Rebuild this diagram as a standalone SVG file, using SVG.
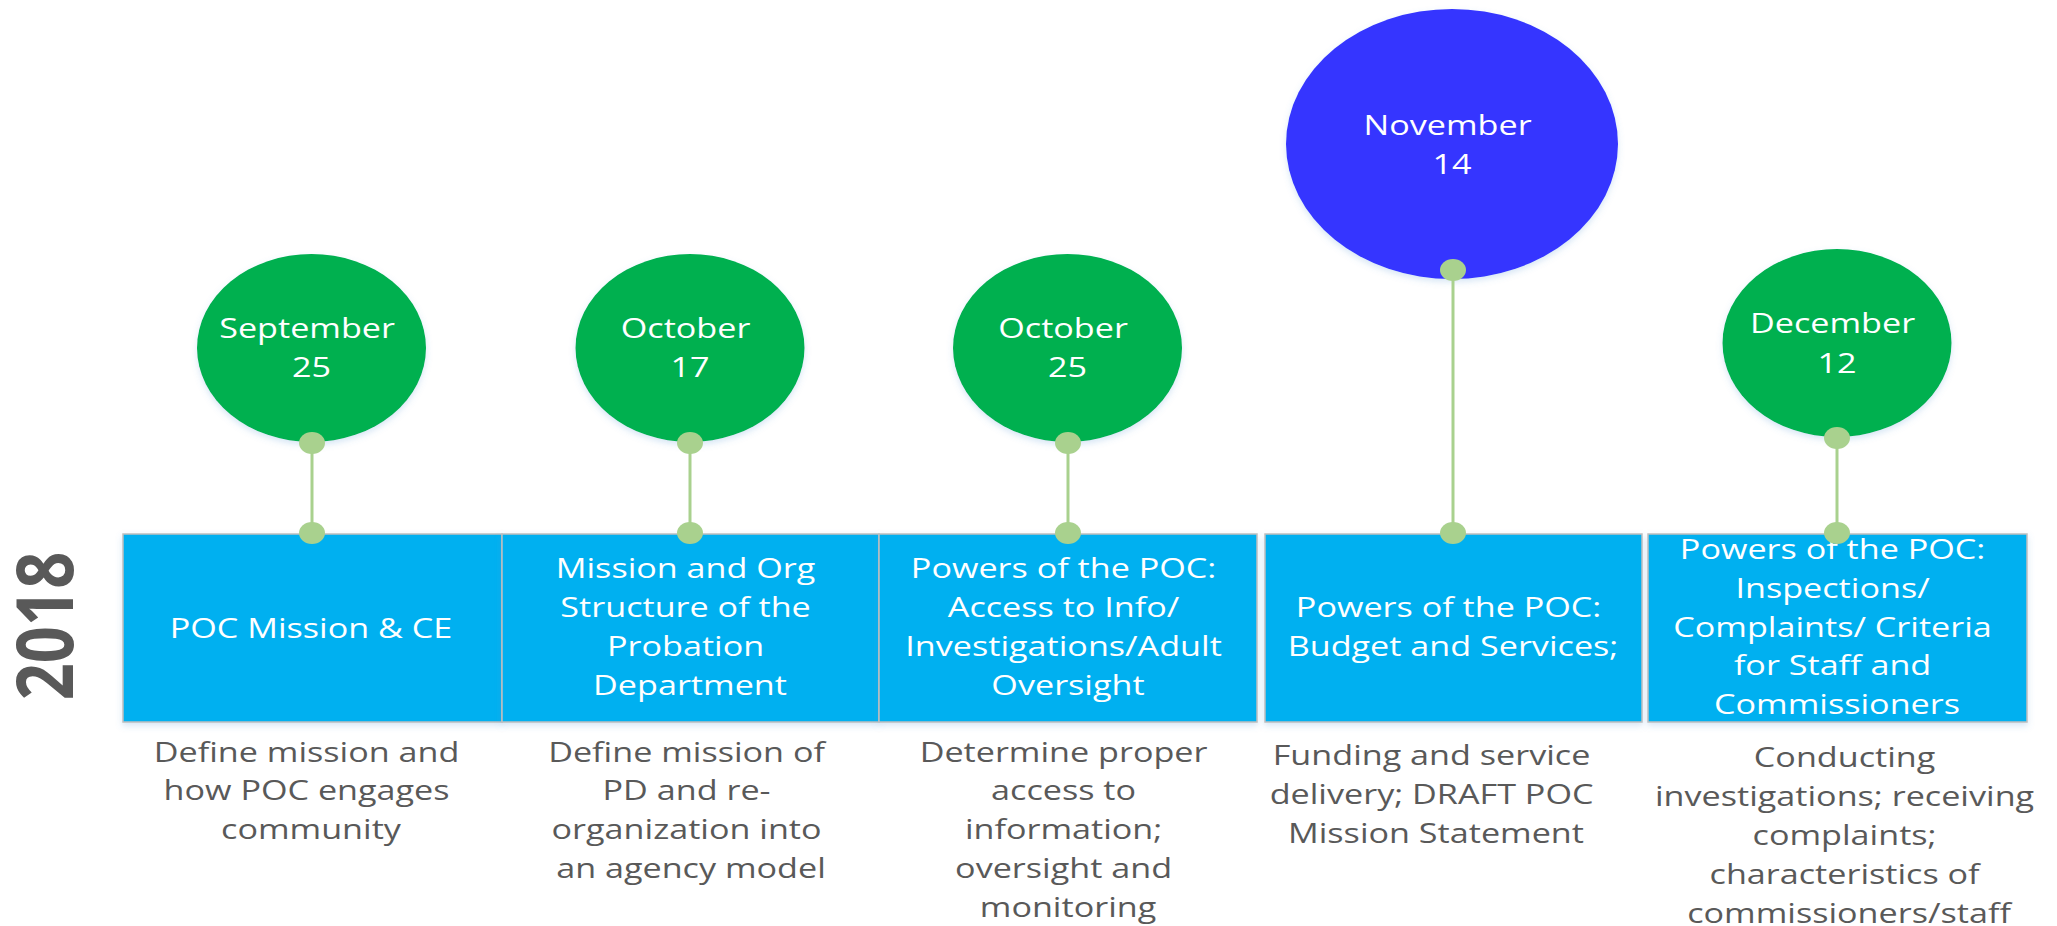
<svg xmlns="http://www.w3.org/2000/svg" width="2057" height="926" viewBox="0 0 2057 926">
  <defs>
    <filter id="sh" x="-20%" y="-20%" width="140%" height="150%">
      <feDropShadow dx="0" dy="3" stdDeviation="3" flood-color="#5b9bd5" flood-opacity="0.25"/>
    </filter>
    <style>
      .t { font-family: "Open Sans", "Liberation Sans", sans-serif; font-size: 28px; text-anchor: middle; }
      .w { fill: #ffffff; }
      .g { fill: #595959; }
      .green { fill: #00b050; filter: url(#sh); }
      .blue { fill: #3535ff; filter: url(#sh); }
      .box { fill: #00b0f0; stroke: #bfbfbf; stroke-width: 1.5; filter: url(#sh); }
      .year { font-family: "Open Sans", "Liberation Sans", sans-serif; font-size: 65px; font-weight: bold; fill: #595959; text-anchor: middle; }
      .link { stroke: #a9d18e; stroke-width: 3; fill: none; }
      .dot { fill: #a9d18e; }
    </style>
  </defs>
  <rect width="2057" height="926" fill="#ffffff"/>

  <text class="year" transform="translate(73,626) scale(1.22,1) rotate(-90)" x="0" y="0">2018</text>

  <!-- topic boxes -->
  <g id="box-sep25">
    <rect class="box" x="123" y="534" width="379" height="188"/>
    <text class="t w" transform="matrix(1.22,0,0,1,311,0)" x="0" y="638">POC Mission &amp; CE</text>
  </g>
  <g id="box-oct17">
    <rect class="box" x="502" y="534" width="377" height="188"/>
    <text class="t w" transform="matrix(1.22,0,0,1,690,0)">
      <tspan x="0" y="578">Mission and Org</tspan>
      <tspan x="0" y="617">Structure of the</tspan>
      <tspan x="0" y="656">Probation</tspan>
      <tspan x="0" y="695">Department</tspan>
    </text>
  </g>
  <g id="box-oct25">
    <rect class="box" x="879" y="534" width="378" height="188"/>
    <text class="t w" transform="matrix(1.22,0,0,1,1068,0)">
      <tspan x="0" y="578">Powers of the POC:</tspan>
      <tspan x="0" y="617">Access to Info/</tspan>
      <tspan x="0" y="656">Investigations/Adult</tspan>
      <tspan x="0" y="695">Oversight</tspan>
    </text>
  </g>
  <g id="box-nov14">
    <rect class="box" x="1265" y="534" width="377" height="188"/>
    <text class="t w" transform="matrix(1.22,0,0,1,1453,0)">
      <tspan x="0" y="617">Powers of the POC:</tspan>
      <tspan x="0" y="656">Budget and Services;</tspan>
    </text>
  </g>
  <g id="box-dec12">
    <rect class="box" x="1648" y="534" width="379" height="188"/>
    <text class="t w" transform="matrix(1.22,0,0,1,1837,0)">
      <tspan x="0" y="559">Powers of the POC:</tspan>
      <tspan x="0" y="598">Inspections/</tspan>
      <tspan x="0" y="637">Complaints/ Criteria</tspan>
      <tspan x="0" y="675">for Staff and</tspan>
      <tspan x="0" y="714">Commissioners</tspan>
    </text>
  </g>

  <!-- descriptions -->
  <g id="desc-sep25">
    <text class="t g" transform="matrix(1.22,0,0,1,311,0)">
      <tspan x="0" y="762">Define mission and</tspan>
      <tspan x="0" y="800">how POC engages</tspan>
      <tspan x="0" y="839">community</tspan>
    </text>
  </g>
  <g id="desc-oct17">
    <text class="t g" transform="matrix(1.22,0,0,1,691,0)">
      <tspan x="0" y="762">Define mission of</tspan>
      <tspan x="0" y="800">PD and re-</tspan>
      <tspan x="0" y="839">organization into</tspan>
      <tspan x="0" y="878">an agency model</tspan>
    </text>
  </g>
  <g id="desc-oct25">
    <text class="t g" transform="matrix(1.22,0,0,1,1068,0)">
      <tspan x="0" y="762">Determine proper</tspan>
      <tspan x="0" y="800">access to</tspan>
      <tspan x="0" y="839">information;</tspan>
      <tspan x="0" y="878">oversight and</tspan>
      <tspan x="0" y="917">monitoring</tspan>
    </text>
  </g>
  <g id="desc-nov14">
    <text class="t g" transform="matrix(1.22,0,0,1,1436,0)">
      <tspan x="0" y="765">Funding and service</tspan>
      <tspan x="0" y="804">delivery; DRAFT POC</tspan>
      <tspan x="0" y="843">Mission Statement</tspan>
    </text>
  </g>
  <g id="desc-dec12">
    <text class="t g" transform="matrix(1.22,0,0,1,1849,0)">
      <tspan x="0" y="767">Conducting</tspan>
      <tspan x="0" y="806">investigations; receiving</tspan>
      <tspan x="0" y="845">complaints;</tspan>
      <tspan x="0" y="884">characteristics of</tspan>
      <tspan x="0" y="923">commissioners/staff</tspan>
    </text>
  </g>

  <!-- date circles -->
  <g id="date-sep25">
    <ellipse class="green" cx="311.5" cy="348" rx="114.5" ry="94"/>
    <text class="t w" transform="matrix(1.22,0,0,1,311.5,0)">
      <tspan x="0" y="338">September</tspan>
      <tspan x="0" y="377">25</tspan>
    </text>
  </g>
  <g id="date-oct17">
    <ellipse class="green" cx="690" cy="348" rx="114.5" ry="94"/>
    <text class="t w" transform="matrix(1.22,0,0,1,690,0)">
      <tspan x="0" y="338">October</tspan>
      <tspan x="0" y="377">17</tspan>
    </text>
  </g>
  <g id="date-oct25">
    <ellipse class="green" cx="1067.5" cy="348" rx="114.5" ry="94"/>
    <text class="t w" transform="matrix(1.22,0,0,1,1067.5,0)">
      <tspan x="0" y="338">October</tspan>
      <tspan x="0" y="377">25</tspan>
    </text>
  </g>
  <g id="date-nov14">
    <ellipse class="blue" cx="1452" cy="144" rx="166" ry="135"/>
    <text class="t w" transform="matrix(1.22,0,0,1,1452,0)">
      <tspan x="0" y="135">November</tspan>
      <tspan x="0" y="174">14</tspan>
    </text>
  </g>
  <g id="date-dec12">
    <ellipse class="green" cx="1837" cy="343" rx="114.5" ry="94"/>
    <text class="t w" transform="matrix(1.22,0,0,1,1837,0)">
      <tspan x="0" y="333">December</tspan>
      <tspan x="0" y="373">12</tspan>
    </text>
  </g>

  <!-- connectors -->
  <g id="connectors">
    <line class="link" x1="312" y1="443" x2="312" y2="533"/>
    <ellipse class="dot" cx="312" cy="443" rx="13" ry="11"/>
    <ellipse class="dot" cx="312" cy="533" rx="13" ry="11"/>

    <line class="link" x1="690" y1="443" x2="690" y2="533"/>
    <ellipse class="dot" cx="690" cy="443" rx="13" ry="11"/>
    <ellipse class="dot" cx="690" cy="533" rx="13" ry="11"/>

    <line class="link" x1="1068" y1="443" x2="1068" y2="533"/>
    <ellipse class="dot" cx="1068" cy="443" rx="13" ry="11"/>
    <ellipse class="dot" cx="1068" cy="533" rx="13" ry="11"/>

    <line class="link" x1="1453" y1="270" x2="1453" y2="533"/>
    <ellipse class="dot" cx="1453" cy="270" rx="13" ry="11"/>
    <ellipse class="dot" cx="1453" cy="533" rx="13" ry="11"/>

    <line class="link" x1="1837" y1="438" x2="1837" y2="533"/>
    <ellipse class="dot" cx="1837" cy="438" rx="13" ry="11"/>
    <ellipse class="dot" cx="1837" cy="533" rx="13" ry="11"/>
  </g>
</svg>
